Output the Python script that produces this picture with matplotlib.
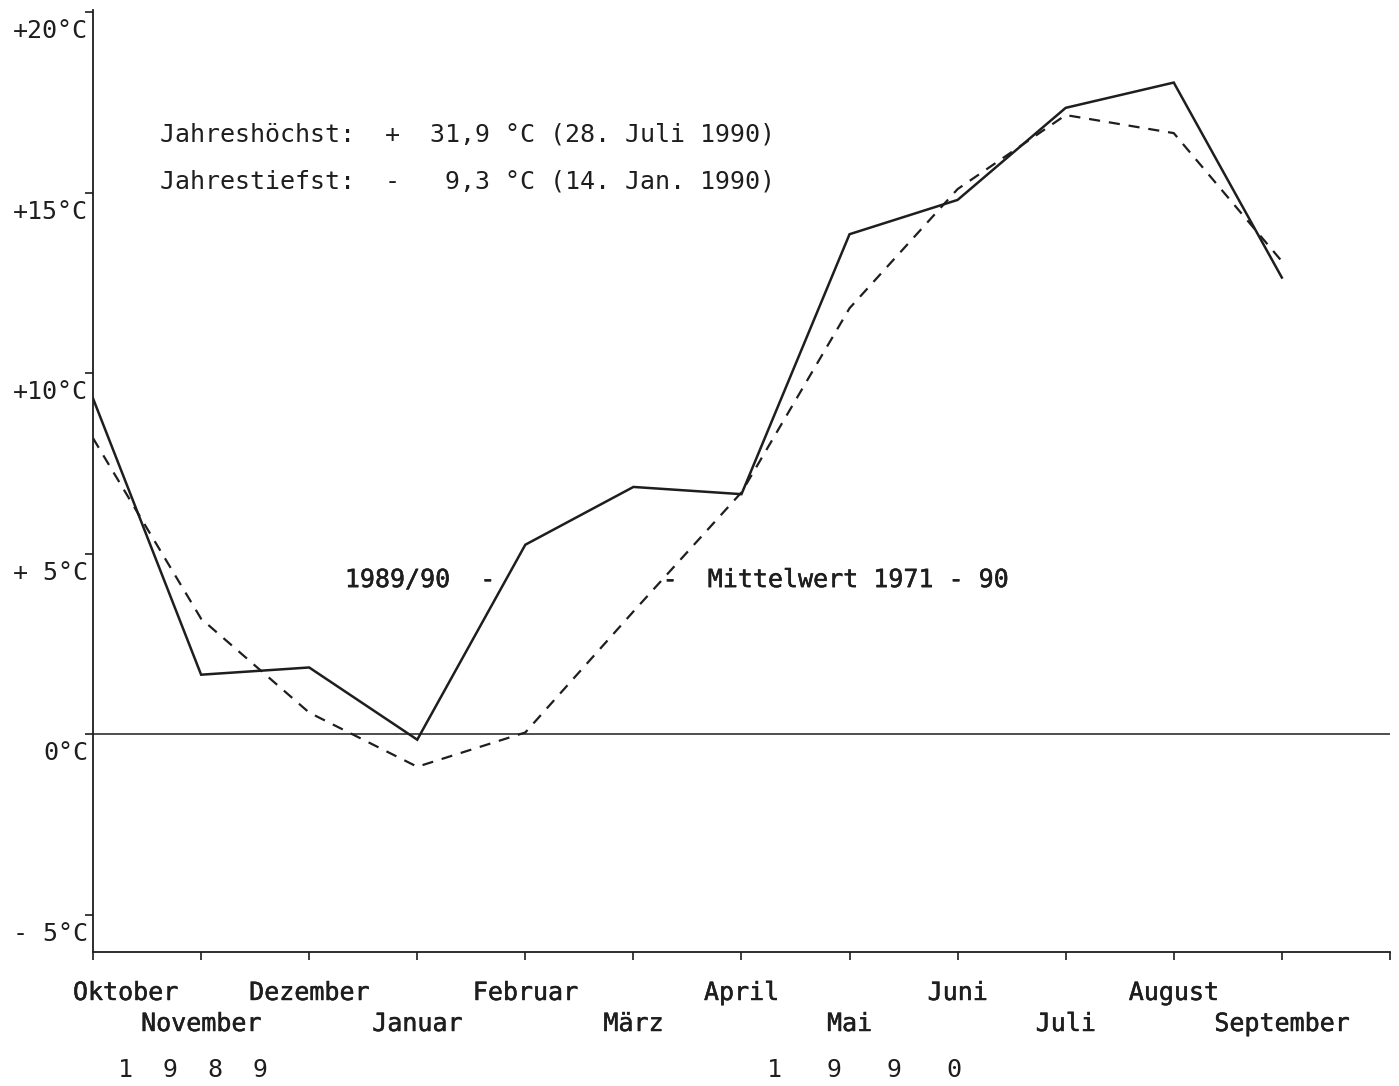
import matplotlib
matplotlib.use("Agg")
from matplotlib import pyplot as plt
from matplotlib.transforms import offset_copy
import matplotlib.patheffects as pe
import numpy as np

# Monatsmittel der Lufttemperatur, Okt. 1989 - Sep. 1990
monate = ["Oktober", "November", "Dezember", "Januar", "Februar", "März",
          "April", "Mai", "Juni", "Juli", "August", "September"]
t_1989_90 = [9.3, 1.65, 1.85, -0.15, 5.25, 6.85, 6.65, 13.85, 14.8, 17.35, 18.05, 12.65]
t_mittel = [8.2, 3.2, 0.6, -0.9, 0.05, 3.4, 6.7, 11.8, 15.1, 17.15, 16.65, 13.1]

y_ticks = [-5, 0, 5, 10, 15, 20]
y_labels = ["- 5°C", "0°C", "+ 5°C", "+10°C", "+15°C", "+20°C"]

FONT = "DejaVu Sans Mono"
FS = 18
INK = "#1e1e1e"
fett = [pe.withStroke(linewidth=0.35, foreground=INK)]

fig = plt.figure(figsize=(13.99, 10.86), dpi=100)
ax = fig.add_axes([0.0665, 0.1234, 0.927, 0.8674])

x = np.arange(len(monate))
ax.plot(x, t_1989_90, color=INK, lw=1.8, solid_joinstyle="miter")
ax.plot(x, t_mittel, color=INK, lw=1.6, linestyle=(0, (5, 4)))
ax.axhline(0, color=INK, lw=1.1)

ax.set_xlim(0, 12)
ax.set_ylim(-6.03, 20.06)
ax.spines[["top", "right"]].set_visible(False)
for s in ["left", "bottom"]:
    ax.spines[s].set_color(INK)
    ax.spines[s].set_linewidth(1.3)
ax.set_xticks(np.arange(13))
ax.set_yticks(y_ticks)
ax.tick_params(direction="out", length=6, width=1.2, color=INK,
               labelbottom=False, labelleft=False)

# y-Beschriftung etwas unterhalb der Striche
ytr = offset_copy(ax.get_yaxis_transform(), fig=fig, x=-5, y=-19, units="dots")
for v, lab in zip(y_ticks, y_labels):
    ax.text(0, v, lab, transform=ytr, ha="right", va="center",
            fontsize=FS, family=FONT, color=INK)

# Monatsnamen in zwei Reihen
xtr = ax.get_xaxis_transform()
for i, m in enumerate(monate):
    dy = -41 if i % 2 == 0 else -72
    dx = 0.3 if i == 0 else 0
    tr = offset_copy(xtr, fig=fig, x=0, y=dy, units="dots")
    ax.text(i + dx, 0, m, transform=tr, ha="center", va="center",
            fontsize=FS, family=FONT, color=INK, path_effects=fett)

tr = offset_copy(xtr, fig=fig, x=0, y=-118, units="dots")
ax.text(0.23, 0, "1  9  8  9", transform=tr, ha="left", va="center",
        fontsize=FS, family=FONT, color=INK)
ax.text(6.24, 0, "1   9   9   0", transform=tr, ha="left", va="center",
        fontsize=FS, family=FONT, color=INK)

ax.text(0.62, 16.6, "Jahreshöchst:  +  31,9 °C (28. Juli 1990)",
        ha="left", va="center", fontsize=FS, family=FONT, color=INK)
ax.text(0.62, 15.3, "Jahrestiefst:  -   9,3 °C (14. Jan. 1990)",
        ha="left", va="center", fontsize=FS, family=FONT, color=INK)

ax.text(2.33, 4.27, "1989/90  -", ha="left", va="center",
        fontsize=FS, family=FONT, color=INK, path_effects=fett)
ax.text(5.27, 4.27, "-  Mittelwert 1971 - 90", ha="left", va="center",
        fontsize=FS, family=FONT, color=INK, path_effects=fett)

fig.savefig("out.png", dpi=100, facecolor="white")
